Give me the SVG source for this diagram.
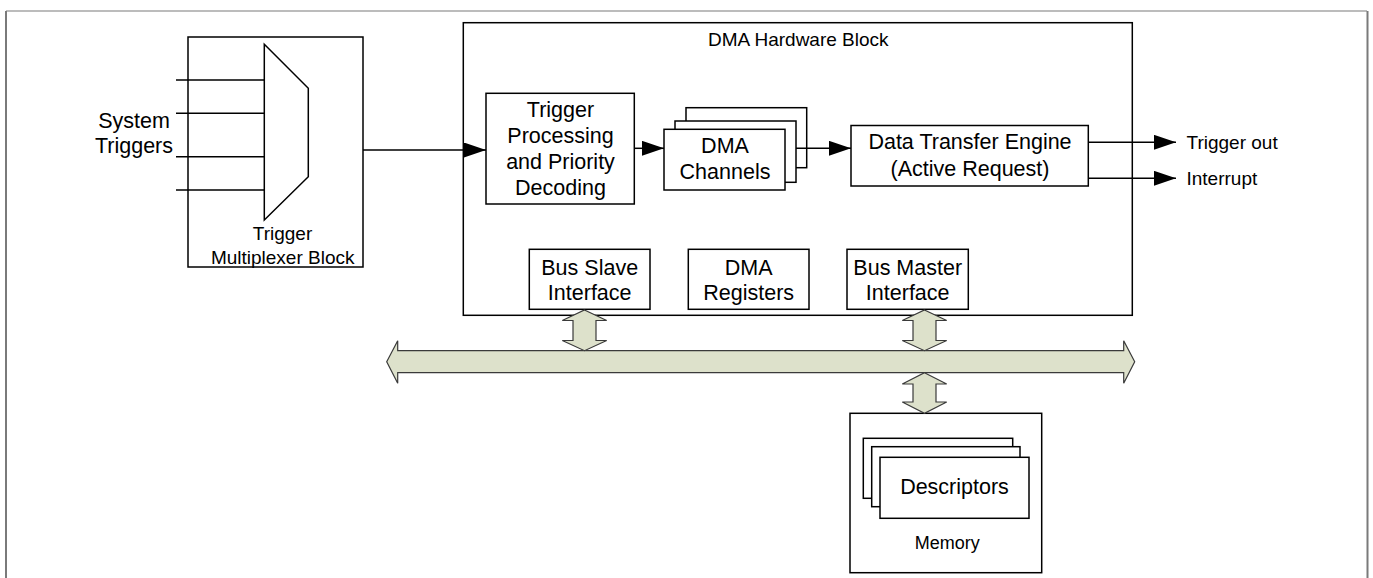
<svg xmlns="http://www.w3.org/2000/svg" width="1373" height="578" viewBox="0 0 1373 578">
  <defs>
    <style>
      .box { fill: #ffffff; stroke: #000000; stroke-width: 1.5; }
      .wire { fill: none; stroke: #000000; stroke-width: 1.5; }
      .bus { fill: #dde1cb; stroke: #3a3a3a; stroke-width: 1.2; stroke-linejoin: miter; }
      .frame { fill: none; stroke: #7a7a7a; }
      text { font-family: "Liberation Sans", Arial, sans-serif; fill: #000000; text-anchor: middle; }
      .lg { font-size: 21.5px; }
      .sm { font-size: 19px; }
      .xs { font-size: 18px; }
      .lft { text-anchor: start; }
    </style>
    <marker id="arrow" markerUnits="userSpaceOnUse" markerWidth="23" markerHeight="16" refX="22" refY="7.5" orient="auto">
      <path d="M0,0 L22,7.5 L0,15 Z" fill="#000000"/>
    </marker>
  </defs>

  <!-- outer frame (open at the bottom) -->
  <g id="frame">
    <path class="frame" d="M6,578 V11" stroke-width="2"/>
    <path class="frame" d="M6,11 H1367" stroke-width="1.2"/>
    <path class="frame" d="M1367.5,11 V578" stroke-width="2"/>
  </g>

  <!-- trigger multiplexer -->
  <g id="trigger-mux">
    <rect class="box" x="188" y="37" width="175" height="230"/>
    <path class="wire" d="M264.3,44.3 L308.3,88.3 L308.3,176.7 L264.3,220 Z"/>
    <path class="wire" d="M176,80 H264.3 M176,113.3 H264.3 M176,156.7 H264.3 M176,190 H264.3"/>
    <text class="sm" x="282.5" y="239.5">Trigger</text>
    <text class="sm" x="282.7" y="264">Multiplexer Block</text>
  </g>

  <g id="system-triggers">
    <text class="lg" x="134" y="127.5">System</text>
    <text class="lg" x="134" y="152.5">Triggers</text>
  </g>

  <!-- DMA hardware block -->
  <g id="dma-block">
    <rect class="box" x="463.3" y="22.7" width="669" height="292.6"/>
    <text class="sm" x="798.3" y="46">DMA Hardware Block</text>
  </g>

  <g id="trigger-processing">
    <rect class="box" x="486" y="93.3" width="148.3" height="110.7"/>
    <text class="lg" x="560.5" y="116.7">Trigger</text>
    <text class="lg" x="560.5" y="143">Processing</text>
    <text class="lg" x="560.5" y="168.5">and Priority</text>
    <text class="lg" x="560.5" y="195">Decoding</text>
  </g>

  <g id="dma-channels">
    <rect class="box" x="686" y="107.7" width="120.7" height="60"/>
    <rect class="box" x="675" y="121" width="121" height="61.3"/>
    <rect class="box" x="664" y="129.3" width="121" height="60.7"/>
    <text class="lg" x="725" y="153.3">DMA</text>
    <text class="lg" x="725" y="179.3">Channels</text>
  </g>

  <g id="data-transfer-engine">
    <rect class="box" x="851" y="125.5" width="237.3" height="60.5"/>
    <text class="lg" x="970" y="149.3">Data Transfer Engine</text>
    <text class="lg" x="970" y="176">(Active Request)</text>
  </g>

  <g id="bus-slave-interface">
    <rect class="box" x="529.3" y="249.3" width="120.7" height="60"/>
    <text class="lg" x="589.7" y="275">Bus Slave</text>
    <text class="lg" x="589.7" y="300">Interface</text>
  </g>

  <g id="dma-registers">
    <rect class="box" x="688.3" y="249.3" width="120.7" height="60"/>
    <text class="lg" x="748.7" y="275">DMA</text>
    <text class="lg" x="748.7" y="300">Registers</text>
  </g>

  <g id="bus-master-interface">
    <rect class="box" x="847" y="249.3" width="121.3" height="60"/>
    <text class="lg" x="907.7" y="275">Bus Master</text>
    <text class="lg" x="907.7" y="300">Interface</text>
  </g>

  <g id="outputs">
    <text class="sm lft" x="1186.5" y="149">Trigger out</text>
    <text class="sm lft" x="1186.5" y="185">Interrupt</text>
  </g>

  <!-- memory with descriptor stack -->
  <g id="memory">
    <rect class="box" x="850" y="413.3" width="191.7" height="159.4"/>
    <rect class="box" x="863.3" y="438.3" width="149.4" height="60"/>
    <rect class="box" x="871.7" y="446.7" width="148.3" height="60"/>
    <rect class="box" x="880" y="457.3" width="149" height="61"/>
    <text class="lg" x="954.5" y="494">Descriptors</text>
    <text class="xs" x="947.3" y="549.3">Memory</text>
  </g>

  <!-- system bus and its links -->
  <g id="system-bus">
    <path class="bus" d="M386.7,361.7 L397.7,340.7 L397.7,350.7 L1123.7,350.7 L1123.7,340.7 L1134.7,361.7 L1123.7,383.3 L1123.7,372.7 L397.7,372.7 L397.7,383.3 Z"/>
  </g>

  <g id="connectors">
    <path class="wire" d="M363,150 H486" marker-end="url(#arrow)"/>
    <path class="wire" d="M634.3,148.3 H664" marker-end="url(#arrow)"/>
    <path class="wire" d="M796,148.3 H851" marker-end="url(#arrow)"/>
    <path class="wire" d="M1088.3,142.3 H1176" marker-end="url(#arrow)"/>
    <path class="wire" d="M1088.3,178.3 H1176" marker-end="url(#arrow)"/>
    <!-- bidirectional bus links -->
    <path class="bus" d="M584.5,310 L606.7,320.5 L596,320.5 L596,340.5 L606.7,340.5 L584.5,350.7 L562.3,340.5 L573,340.5 L573,320.5 L562.3,320.5 Z"/>
    <path class="bus" d="M924.5,310 L946.7,320.5 L936,320.5 L936,340.5 L946.7,340.5 L924.5,350.7 L902.3,340.5 L913,340.5 L913,320.5 L902.3,320.5 Z"/>
    <path class="bus" d="M924.5,372.7 L946.7,384 L936,384 L936,402 L946.7,402 L924.5,413.3 L902.3,402 L913,402 L913,384 L902.3,384 Z"/>
  </g>
</svg>
